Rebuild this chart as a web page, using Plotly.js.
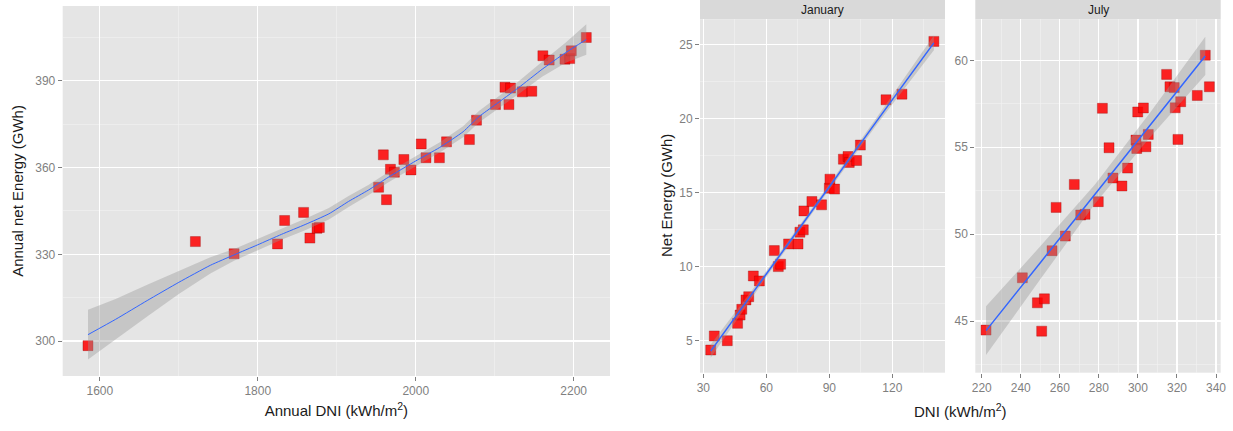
<!DOCTYPE html>
<html>
<head>
<meta charset="utf-8">
<script src="https://cdn.plot.ly/plotly-3.0.1.min.js"></script>
<style>html,body{margin:0;padding:0;background:#fff;}#chart{width:1233px;height:431px;}</style>
</head>
<body>
<div id="chart"></div>
<script>
// ---------- Panel 1: annual ----------
const annualDNI = [1585, 1721, 1770, 1825, 1834, 1858, 1866, 1875, 1878, 1953, 1959, 1963, 1968, 1973, 1985, 1994, 2007, 2013, 2030, 2039, 2068, 2077, 2101, 2113, 2118, 2120, 2135, 2147, 2161, 2169, 2189, 2195, 2197, 2216];
const annualEnergy = [298.4, 334.4, 330.2, 333.6, 341.7, 344.5, 335.6, 339.0, 339.3, 353.2, 364.4, 348.9, 359.4, 358.4, 362.8, 359.2, 368.2, 363.4, 363.4, 368.9, 369.7, 376.4, 381.8, 387.8, 381.8, 387.5, 386.2, 386.4, 398.7, 397.2, 397.5, 397.7, 400.4, 405.0];
const annualFitX  = [1585, 1620, 1660, 1700, 1740, 1770, 1800, 1830, 1860, 1890, 1915, 1940, 1965, 2000, 2030, 2060, 2080, 2100, 2130, 2160, 2190, 2216];
const annualFitY  = [302.2, 307.5, 314.0, 320.3, 326.2, 329.8, 333.3, 336.9, 340.3, 344.0, 348.3, 352.2, 356.6, 362.3, 366.9, 372.4, 377.6, 381.6, 387.6, 394.0, 399.8, 404.3];
const annualFitLo = [293.6, 300.5, 308.5, 316.3, 323.4, 327.8, 331.4, 335.0, 338.3, 342.0, 346.4, 350.4, 354.8, 360.5, 365.1, 370.5, 375.6, 379.6, 385.4, 391.4, 396.3, 399.0];
const annualFitHi = [310.8, 314.5, 319.5, 324.3, 329.0, 331.8, 335.2, 338.8, 342.3, 346.0, 350.2, 354.0, 358.4, 364.1, 368.7, 374.3, 379.6, 383.6, 389.8, 396.6, 403.3, 409.6];

// ---------- Panel 2: January ----------
const janDNI = [33.5, 35.2, 41.4, 46.3, 47.5, 48.3, 50.3, 51.6, 53.8, 56.7, 63.8, 65.7, 66.8, 70.6, 75.1, 76.0, 77.6, 77.9, 81.7, 86.3, 90.0, 90.3, 92.5, 96.7, 98.9, 99.5, 103.0, 104.8, 117.0, 124.6, 139.8];
const janEnergy = [4.37, 5.32, 5.0, 6.17, 6.73, 7.12, 7.75, 7.97, 9.37, 9.03, 11.08, 10.0, 10.16, 11.53, 11.53, 12.32, 12.48, 13.76, 14.39, 14.17, 15.29, 15.9, 15.23, 17.25, 17.43, 17.03, 17.16, 18.2, 21.26, 21.64, 25.2];
const janFitX  = [33.5, 60, 86.5, 113, 139.8];
const janFitY  = [4.3, 9.5, 14.7, 19.9, 25.1];
const janFitLo = [3.85, 9.3, 14.52, 19.65, 24.6];
const janFitHi = [4.75, 9.7, 14.88, 20.15, 25.6];

// ---------- Panel 3: July ----------
const julDNI = [222.2, 240.8, 248.5, 252.1, 250.7, 256.0, 258.1, 262.8, 267.4, 270.7, 272.9, 279.7, 281.8, 285.2, 287.2, 291.8, 294.7, 299.0, 299.4, 299.9, 302.8, 304.1, 305.3, 314.7, 316.4, 318.6, 319.1, 321.9, 320.5, 330.4, 334.5, 336.6];
const julEnergy = [44.48, 47.49, 46.05, 46.28, 44.42, 49.05, 51.54, 49.89, 52.86, 51.1, 51.14, 51.87, 57.24, 54.97, 53.23, 52.77, 53.8, 55.41, 54.93, 57.03, 57.26, 55.03, 55.74, 59.19, 58.48, 58.43, 57.27, 57.62, 55.45, 57.98, 60.29, 58.48];
const julFitX  = [222.2, 250, 278, 306, 334.5];
const julFitY  = [44.45, 48.36, 52.3, 56.24, 60.25];
const julFitLo = [43.05, 47.4, 51.75, 55.55, 59.15];
const julFitHi = [45.85, 49.3, 52.85, 56.95, 61.35];

const panelTitles = ['January', 'July'];

// ---------- styling ----------
const W = 1233, H = 431;
const px = v => v / W;
const py = v => 1 - v / H;
const FONT = 'Liberation Sans, Arial, sans-serif';
const TICKCOL = '#7F7F7F';

function band(fx, lo, hi, xa, ya) {
  return {
    type: 'scatter', mode: 'lines', xaxis: xa, yaxis: ya,
    x: fx.concat(fx.slice().reverse()),
    y: hi.concat(lo.slice().reverse()),
    fill: 'toself', fillcolor: 'rgba(153,153,153,0.4)',
    line: {width: 0}, hoverinfo: 'skip', showlegend: false
  };
}
function pts(x, y, xa, ya) {
  return {
    type: 'scatter', mode: 'markers', xaxis: xa, yaxis: ya, x: x, y: y,
    marker: {symbol: 'square', size: 10, color: 'rgba(255,0,0,0.85)',
             line: {width: 0.6, color: 'rgba(140,0,0,0.55)'}},
    showlegend: false
  };
}
function fit(x, y, xa, ya, w) {
  return {type: 'scatter', mode: 'lines', xaxis: xa, yaxis: ya, x: x, y: y,
          line: {color: '#3366FF', width: w, shape: 'spline', smoothing: 0.5}, showlegend: false};
}

const traces = [
  pts(annualDNI, annualEnergy, 'x', 'y'),
  band(annualFitX, annualFitLo, annualFitHi, 'x', 'y'),
  fit(annualFitX, annualFitY, 'x', 'y', 1),
  pts(janDNI, janEnergy, 'x2', 'y2'),
  band(janFitX, janFitLo, janFitHi, 'x2', 'y2'),
  fit(janFitX, janFitY, 'x2', 'y2', 1.5),
  pts(julDNI, julEnergy, 'x3', 'y3'),
  band(julFitX, julFitLo, julFitHi, 'x3', 'y3'),
  fit(julFitX, julFitY, 'x3', 'y3', 1.5)
];

function ax(domain, range, tick0, dtick, minorD, anchor) {
  return {
    domain: domain, range: range, anchor: anchor,
    tick0: tick0, dtick: dtick,
    showgrid: true, gridcolor: '#FFFFFF', gridwidth: 1.2,
    minor: {tick0: tick0, dtick: minorD, showgrid: true, gridcolor: '#F2F2F2', gridwidth: 0.6, ticks: ''},
    zeroline: false, showline: false,
    ticks: 'outside', ticklen: 4, tickwidth: 1, tickcolor: TICKCOL,
    tickfont: {family: FONT, size: 12, color: TICKCOL},
    fixedrange: true
  };
}

const d1x = [px(62.7), px(610)], d1y = [py(376), py(6)];
const d2x = [px(700), px(945)], d3x = [px(975.3), px(1220.7)];
const dRy = [py(372.7), py(19.3)];

const layout = {
  width: W, height: H,
  margin: {l: 0, r: 0, t: 0, b: 0},
  paper_bgcolor: '#FFFFFF', plot_bgcolor: '#E5E5E5',
  showlegend: false,
  font: {family: FONT},
  xaxis: Object.assign(ax(d1x, [1553, 2246], 1600, 200, 100, 'y'),
    {title: {text: 'Annual DNI (kWh/m<sup>2</sup>)', font: {family: FONT, size: 15, color: '#1A1A1A'}, standoff: 8}}),
  yaxis: Object.assign(ax(d1y, [287.9, 415.9], 300, 30, 15, 'x'),
    {title: {text: 'Annual net Energy (GWh)', font: {family: FONT, size: 15, color: '#1A1A1A'}, standoff: 8}}),
  xaxis2: ax(d2x, [28.4, 145.1], 30, 30, 15, 'y2'),
  yaxis2: ax(dRy, [2.84, 26.69], 5, 5, 2.5, 'x2'),
  xaxis3: ax(d3x, [216.7, 342.4], 220, 20, 10, 'y3'),
  yaxis3: ax(dRy, [42.03, 62.36], 45, 5, 2.5, 'x3'),
  shapes: [
    {type: 'rect', xref: 'paper', yref: 'paper', x0: d2x[0], x1: d2x[1], y0: dRy[1], y1: 1,
     fillcolor: '#D9D9D9', line: {width: 0}, layer: 'below'},
    {type: 'rect', xref: 'paper', yref: 'paper', x0: d3x[0], x1: d3x[1], y0: dRy[1], y1: 1,
     fillcolor: '#D9D9D9', line: {width: 0}, layer: 'below'}
  ],
  annotations: [
    {text: panelTitles[0], xref: 'paper', yref: 'paper', x: (d2x[0] + d2x[1]) / 2, y: (dRy[1] + 1) / 2,
     xanchor: 'center', yanchor: 'middle', showarrow: false, font: {family: FONT, size: 12, color: '#1A1A1A'}},
    {text: panelTitles[1], xref: 'paper', yref: 'paper', x: (d3x[0] + d3x[1]) / 2, y: (dRy[1] + 1) / 2,
     xanchor: 'center', yanchor: 'middle', showarrow: false, font: {family: FONT, size: 12, color: '#1A1A1A'}},
    {text: 'DNI (kWh/m<sup>2</sup>)', xref: 'paper', yref: 'paper', x: px(960), y: py(410),
     xanchor: 'center', yanchor: 'middle', showarrow: false, font: {family: FONT, size: 15, color: '#1A1A1A'}},
    {text: 'Net Energy (GWh)', xref: 'paper', yref: 'paper', x: px(666), y: py(196), textangle: -90,
     xanchor: 'center', yanchor: 'middle', showarrow: false, font: {family: FONT, size: 15, color: '#1A1A1A'}}
  ]
};

Plotly.newPlot('chart', traces, layout, {displayModeBar: false, staticPlot: true});
</script>
</body>
</html>
